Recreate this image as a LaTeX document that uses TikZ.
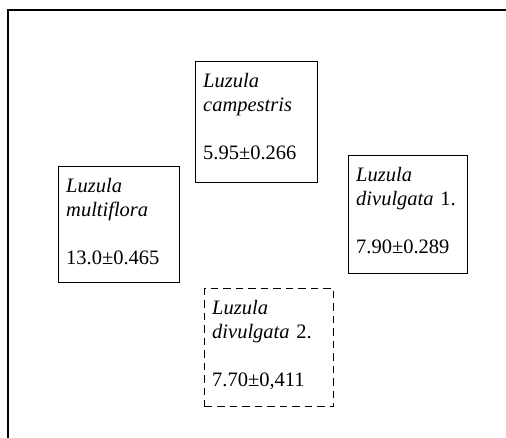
\documentclass[tikz,border=0pt]{standalone}
\usepackage{fontspec}
\setmainfont{Liberation Serif}
\begin{document}
\begin{tikzpicture}[x=1pt,y=-1pt,
  box/.style={draw, line width=1.4pt, anchor=north west, inner xsep=7.5pt, inner ysep=0pt,
    align=left, font=\fontsize{20.5}{24}\selectfont, text height=26pt},
  dashbox/.style={box, dash pattern=on 7.5pt off 5pt},
  frame/.style={line width=1.8pt}]
\useasboundingbox (0,0) rectangle (506,438);
\coordinate (fb) at (8,445);
\coordinate (fc) at (8,10);
\coordinate (fr) at (515,10);
\draw[frame] (fb) -- (fc) -- (fr);
\node[box, text width=107pt, text depth=95pt] (camp) at (195,61)
  {\textit{Luzula}\\\textit{campestris}\\[24pt]5.95±0.266};
\node[box, text width=106pt, text depth=90pt] (multi) at (58,166)
  {\textit{Luzula}\\\textit{multiflora}\\[24pt]13.0±0.465};
\node[box, text width=104pt, text depth=92pt] (div1) at (348,155)
  {\textit{Luzula}\\\textit{divulgata} 1.\\[24pt]7.90±0.289};
\node[dashbox, text width=114pt, text depth=92pt] (div2) at (204,288)
  {\textit{Luzula}\\\textit{divulgata} 2.\\[24pt]7.70±0,411};
\end{tikzpicture}
\end{document}
